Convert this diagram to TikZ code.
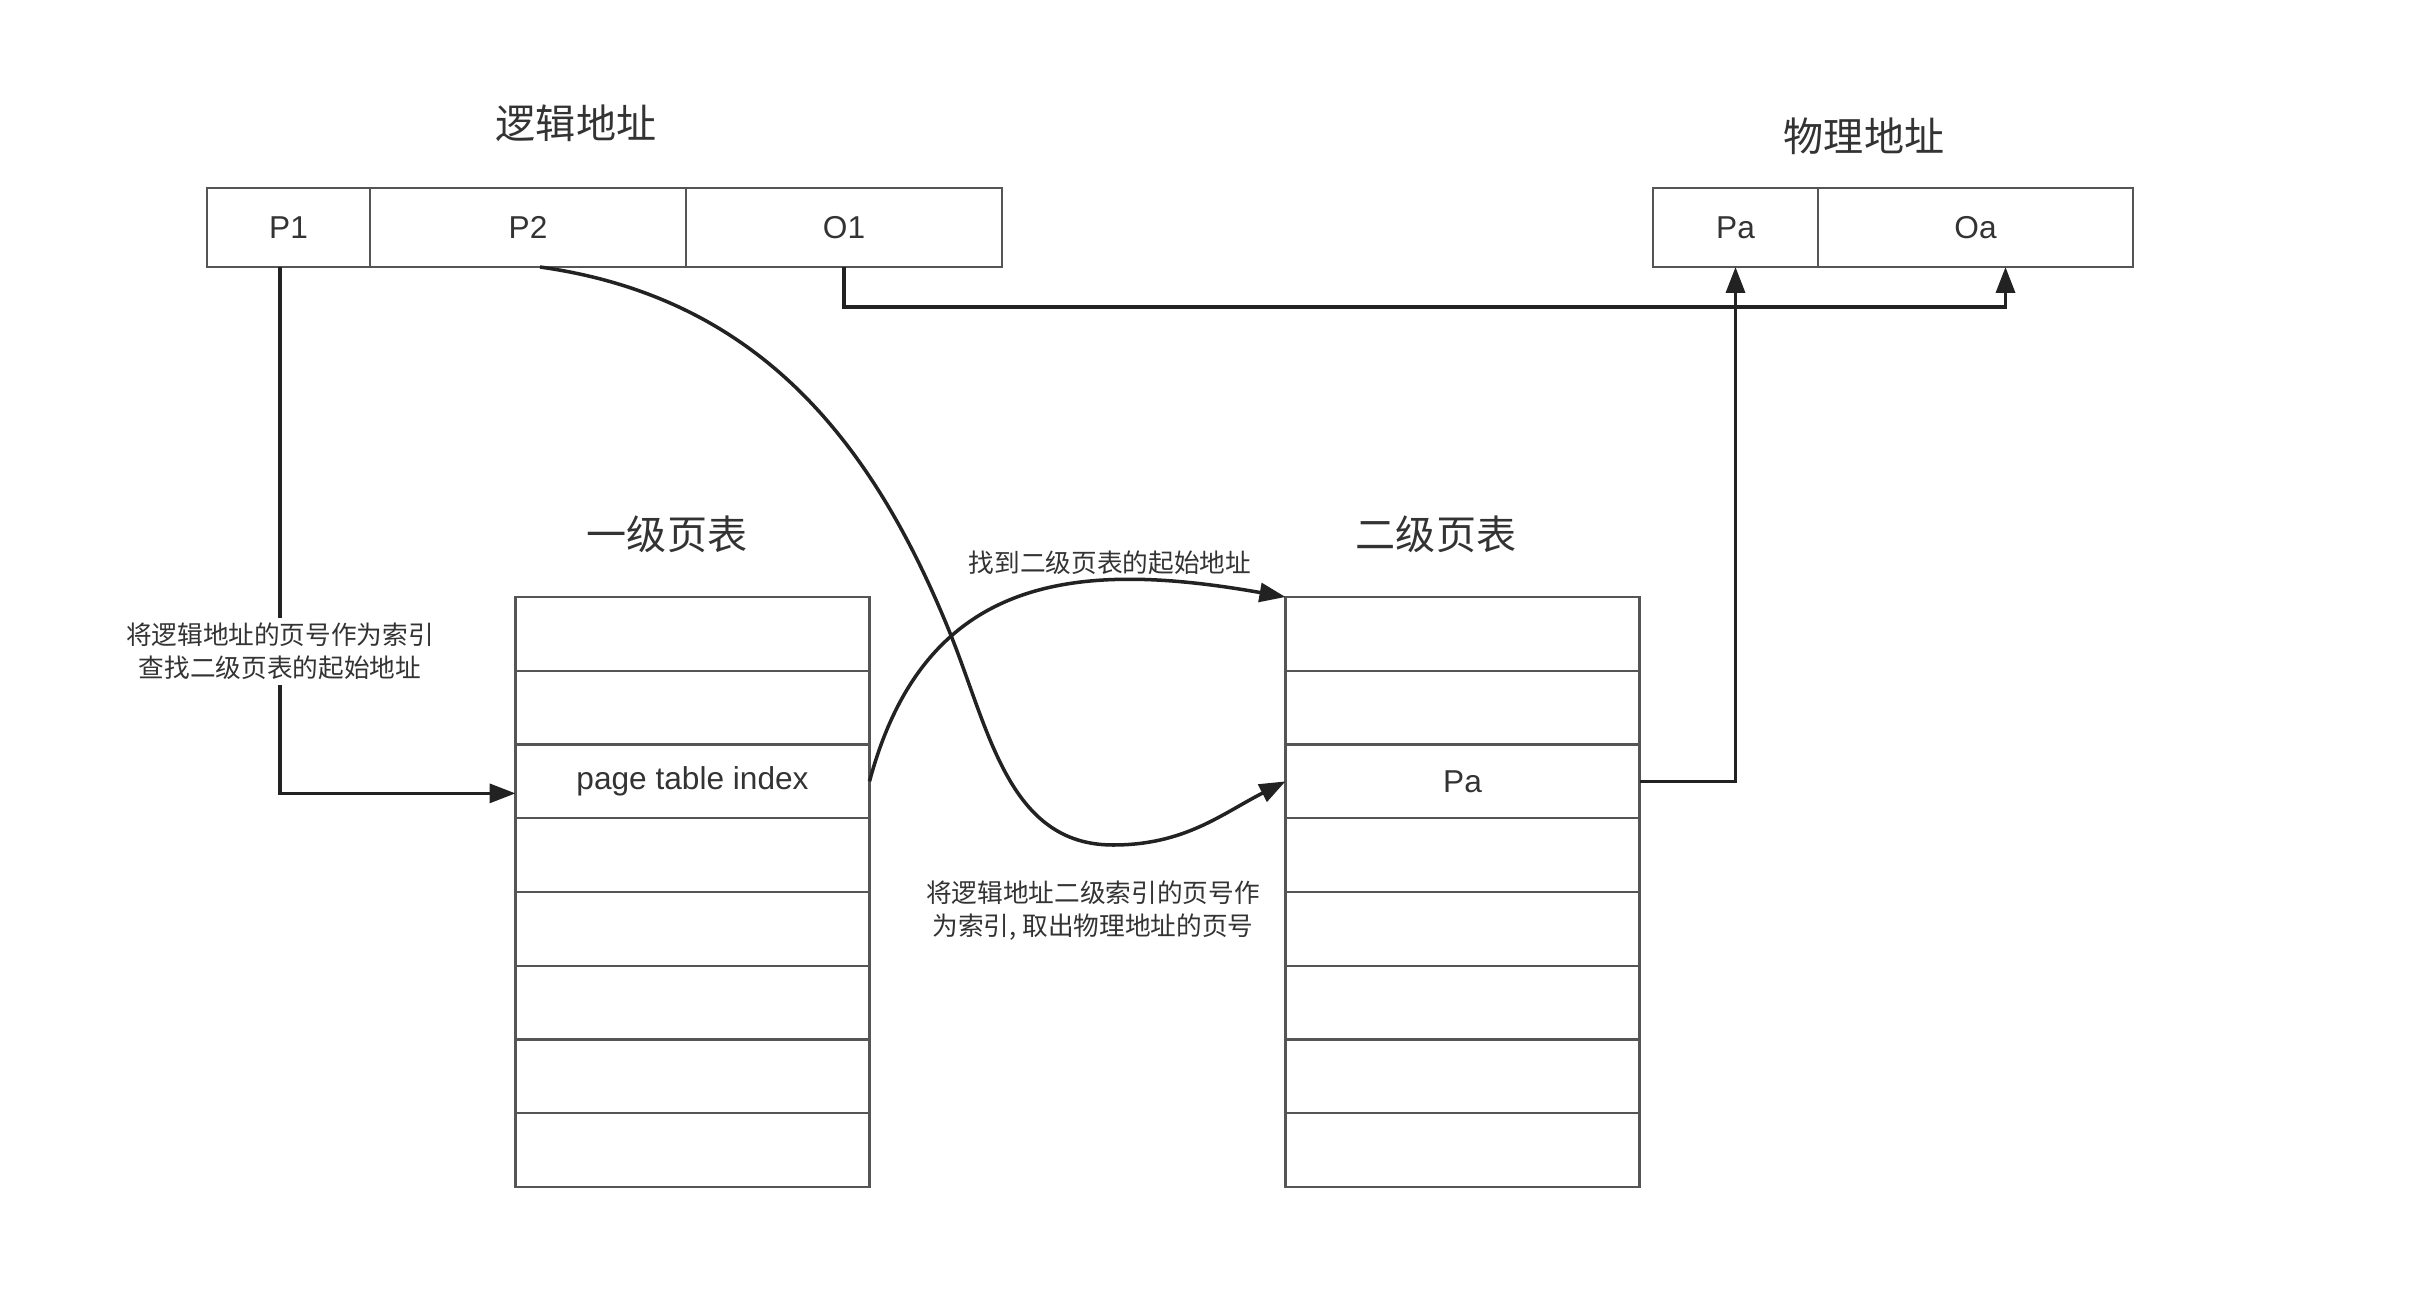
\documentclass[tikz,border=0pt]{standalone}
\usepackage{fontspec}
\setmainfont{Liberation Sans}
\newfontfamily\cjk{Noto Sans CJK SC}
\usetikzlibrary{arrows.meta, positioning}
\definecolor{boxgray}{HTML}{555555}
\definecolor{inkdark}{HTML}{222222}
\definecolor{txtdark}{HTML}{333333}

\begin{document}
\begin{tikzpicture}[
  >={Triangle[length=2.6mm, width=1.9mm]},
  font=\fontsize{9}{11}\selectfont,
  cell/.style={draw=boxgray, line width=0.6pt, rectangle, minimum height=0.79cm, outer sep=0pt, inner sep=0pt, text=txtdark},
  row/.style={cell, minimum width=3.54cm, minimum height=0.7375cm},
  title/.style={font=\cjk\fontsize{11.4}{13}\selectfont, text=txtdark},
  note/.style={font=\cjk\fontsize{7.3}{9.4}\selectfont, align=center, text=txtdark},
  link/.style={->, draw=inkdark, line width=1pt}
]
  \useasboundingbox (0,0) rectangle (24.18,-13.02);

  % Titulos
  \node[title] (ltitle) at (5.76,-1.23) {逻辑地址};
  \node[title] (ptitle) at (18.64,-1.36) {物理地址};
  \node[title] (t1title) at (6.67,-5.34) {一级页表};
  \node[title] (t2title) at (14.36,-5.34) {二级页表};

  % Direccion logica y fisica
  \node[cell, minimum width=1.63cm] (p1) at (2.885,-2.275) {P1};
  \node[cell, minimum width=3.16cm, right=0pt of p1] (p2) {P2};
  \node[cell, minimum width=3.16cm, right=0pt of p2] (o1) {O1};
  \node[cell, minimum width=1.65cm] (pa) at (17.355,-2.275) {Pa};
  \node[cell, minimum width=3.15cm, right=0pt of pa] (oa) {Oa};

  % Tablas de paginas
  \foreach \i/\txt in {1/{},2/{},3/{page table index},4/{},5/{},6/{},7/{},8/{}}
    \node[row] (ta\i) at (6.925,{-5.97-0.7375*(\i-0.5)}) {\txt};
  \foreach \i/\txt in {1/{},2/{},3/{Pa},4/{},5/{},6/{},7/{},8/{}}
    \node[row] (tb\i) at (14.625,{-5.97-0.7375*(\i-0.5)}) {\txt};

  % Etiquetas
  \node[note] (n2) at (11.10,-5.63) {找到二级页表的起始地址};
  \node[note] (n3) at (10.93,-9.11) {将逻辑地址二级索引的页号作\\为索引, 取出物理地址的页号};

  % Conexiones
  \draw[link] ([xshift=-0.085cm]p1.south) |- node[note, fill=white, inner sep=1.5pt, pos=0.365] (n1) {将逻辑地址的页号作为索引\\查找二级页表的起始地址} ([yshift=-0.12cm]ta3.west);
  \draw[link] (o1.south) -- ++(0,-0.4) -| ([xshift=0.3cm]oa.south);
  \draw[link] (tb3.east) -| (pa.south);
  \draw[link] ([xshift=0.12cm]p2.south) to[out=-8, in=112] (9.50,-6.33) to[out=-68, in=180] (11.13,-8.45) to[out=0, in=207] (tb3.west);
  \draw[link] (ta3.east) to[out=75, in=170, looseness=1.2] (tb1.north west);

\end{tikzpicture}
\end{document}
